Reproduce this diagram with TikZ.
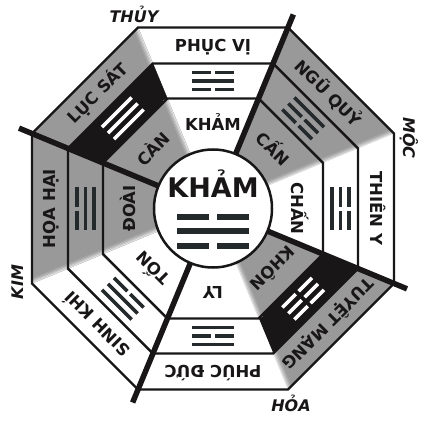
\documentclass[tikz,border=0pt]{standalone}
\usepackage{fontspec}
\setmainfont{DejaVu Sans}
\definecolor{bggray}{RGB}{153,153,153}
\definecolor{ink}{RGB}{24,22,22}
\definecolor{triink}{RGB}{36,41,43}
\tikzset{
  ringline/.style={draw=ink,line width=2.4pt,line join=miter},
  axisline/.style={draw=ink,line width=5.5pt},
  lbl/.style={font=\fontsize{16.5}{18}\selectfont\bfseries, text height=12pt, text depth=0pt, inner sep=0pt, text=ink},
  elem/.style={font=\fontsize{16}{18}\selectfont\bfseries\itshape, text height=11.7pt, text depth=0pt, inner sep=0pt, text=ink},
  trline/.style={line width=3.5pt},
  softedge/.style={line width=1.3pt},
}
% sector fills: angle, inner, middle, outer colour
\newcommand\sectorfill[4]{%
  \filldraw[fill=#2,draw=#2,line width=0.3pt] (0,0) -- (#1-22.5:119.06pt) -- (#1+22.5:119.06pt) -- cycle;
  \filldraw[fill=#3,draw=#3,line width=0.3pt] (#1-22.5:119.06pt) -- (#1+22.5:119.06pt) -- (#1+22.5:156.95pt) -- (#1-22.5:156.95pt) -- cycle;
  \filldraw[fill=#4,draw=#4,line width=0.3pt] (#1-22.5:156.95pt) -- (#1+22.5:156.95pt) -- (#1+22.5:195.91pt) -- (#1-22.5:195.91pt) -- cycle;
}
% soft light edge on the grey side of a grey/white boundary: angle, side (+1/-1), include middle ring (1/0)
\newcommand\softedge[3]{%
  \begin{scope}[rotate=#1]
    \foreach \off/\mix in {0.6/30,1.8/50,3.0/70,4.2/88}{
      \draw[softedge,draw=bggray!\mix!white] (55,#2*\off) -- (119.06,#2*\off);
      \draw[softedge,draw=bggray!\mix!white] (156.95,#2*\off) -- (200,#2*\off);
      \ifnum#3=1 \draw[softedge,draw=bggray!\mix!white] (119.06,#2*\off) -- (156.95,#2*\off);\fi
    }
  \end{scope}}
% trigram: angle, colour, inner, middle, outer (1 solid, 0 broken)
\newcommand\mytrigram[5]{%
  \begin{scope}[shift={(#1:127.5pt)},rotate=#1-90]
    \foreach \v/\yy in {#3/-8.5,#4/0,#5/8.5}{
      \ifnum\v=1
        \draw[trline,#2] (-21pt,\yy pt) -- (21pt,\yy pt);
      \else
        \draw[trline,#2] (-21pt,\yy pt) -- (-2pt,\yy pt) (2pt,\yy pt) -- (21pt,\yy pt);
      \fi}
  \end{scope}}
\begin{document}
\begin{tikzpicture}[x=1pt,y=1pt]
\useasboundingbox (-213,-211.5) rectangle (212,208.5);
\fill[white] (-213,-211.5) rectangle (212,208.5);
% fills
\sectorfill{90}{white}{white}{white}
\sectorfill{45}{bggray}{bggray}{bggray}
\sectorfill{0}{white}{white}{white}
\sectorfill{-45}{bggray}{ink}{bggray}
\sectorfill{-90}{white}{white}{white}
\sectorfill{-135}{white}{white}{white}
\sectorfill{180}{bggray}{bggray}{bggray}
\sectorfill{135}{bggray}{ink}{bggray}
% soft edges
\begin{scope}
  \clip (22.5:195.91pt) -- (67.5:195.91pt) -- (112.5:195.91pt) -- (157.5:195.91pt) -- (202.5:195.91pt) -- (247.5:195.91pt) -- (292.5:195.91pt) -- (337.5:195.91pt) -- cycle;
  \softedge{112.5}{1}{0}
  \softedge{22.5}{1}{1}
  \softedge{-67.5}{1}{0}
  \softedge{202.5}{-1}{1}
\end{scope}
% ring lines
\foreach \R in {195.91,156.95,119.06}{
  \draw[ringline] (22.5:\R pt) -- (67.5:\R pt) -- (112.5:\R pt) -- (157.5:\R pt) -- (202.5:\R pt) -- (247.5:\R pt) -- (292.5:\R pt) -- (337.5:\R pt) -- cycle;
}
% thick dividing lines
\foreach \a in {67.5,157.5,247.5,-22.5}{
  \draw[axisline] (\a:50pt) -- (\a:210pt);
}
% centre circle
\node[circle,draw=ink,fill=white,line width=2.5pt,minimum size=118pt,inner sep=0pt] (hub) at (0,0) {};
\node[font=\fontsize{27}{30}\selectfont\bfseries,text height=19.7pt,text depth=0pt,inner sep=0pt,text=ink] (hubname) at (0,21) {KHẢM};
\draw[triink,line width=6.5pt] (-36,-8.5) -- (-4,-8.5) (4,-8.5) -- (36,-8.5);
\draw[triink,line width=6.5pt] (-36,-22.5) -- (36,-22.5);
\draw[triink,line width=6.5pt] (-36,-37.5) -- (-4,-37.5) (4,-37.5) -- (36,-37.5);
% trigrams
\mytrigram{90}{triink}{0}{1}{0}
\mytrigram{45}{triink}{0}{0}{1}
\mytrigram{0}{triink}{1}{0}{0}
\mytrigram{-45}{white}{0}{0}{0}
\mytrigram{-90}{triink}{1}{0}{1}
\mytrigram{-135}{triink}{0}{1}{1}
\mytrigram{180}{triink}{1}{1}{0}
\mytrigram{135}{white}{1}{1}{1}
% outer labels
\node[lbl,rotate=0] (o1) at (90:163pt) {PHỤC VỊ};
\node[lbl,rotate=-45] (o2) at (45:163pt) {NGŨ QUỶ};
\node[lbl,rotate=-90] (o3) at (0:163pt) {THIÊN Y};
\node[lbl,rotate=-135] (o4) at (-45:163pt) {TUYỆT MẠNG};
\node[lbl,rotate=-180] (o5) at (-90:163pt) {PHÚC ĐỨC};
\node[lbl,rotate=135] (o6) at (-135:163pt) {SINH KHÍ};
\node[lbl,rotate=90] (o7) at (180:163pt) {HỌA HẠI};
\node[lbl,rotate=45] (o8) at (135:163pt) {LỤC SÁT};
% inner labels
\node[lbl,rotate=0] (i1) at (90:84pt) {KHẢM};
\node[lbl,rotate=-45] (i2) at (45:84pt) {CẤN};
\node[lbl,rotate=-90] (i3) at (0:84pt) {CHẤN};
\node[lbl,rotate=-135] (i4) at (-45:84pt) {KHÔN};
\node[lbl,rotate=-180] (i5) at (-90:84pt) {LY};
\node[lbl,rotate=135] (i6) at (-135:84pt) {TỐN};
\node[lbl,rotate=90] (i7) at (180:84pt) {ĐOÀI};
\node[lbl,rotate=45] (i8) at (135:84pt) {CÀN};
% element labels
\node[elem] (thuy) at (-79,191.5) {THỦY};
\node[elem,rotate=-90] (moc) at (196,70.5) {MỘC};
\node[elem] (hoa) at (78,-197.5) {HỎA};
\node[elem,rotate=90] (kim) at (-195,-73.5) {KIM};
\end{tikzpicture}
\end{document}
